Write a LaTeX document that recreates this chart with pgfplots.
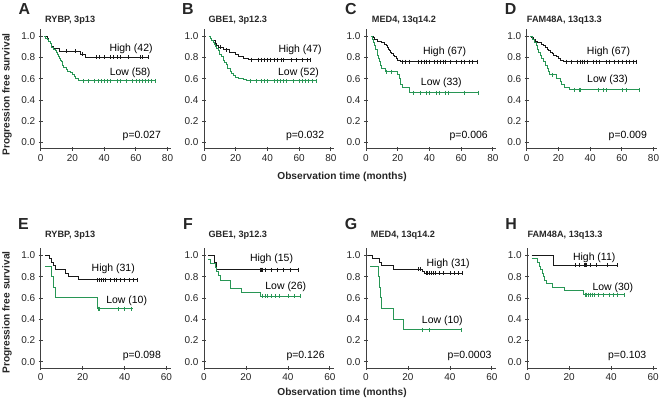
\documentclass[border=0pt]{standalone}
\usepackage{fontspec}
\setmainfont{Liberation Sans}
\usepackage{pgfplots}
\pgfplotsset{compat=1.18}
\definecolor{kmgreen}{RGB}{40,150,85}
\definecolor{kmblack}{RGB}{25,25,25}
\pgfplotsset{
  km/.style={scale only axis, width=130bp, height=120bp, anchor=south west,
    axis lines=left, axis line style={-, black!75, line width=0.8bp},
    tick align=center, major tick length=4bp, tick style={black!75, line width=0.7bp},
    ymin=-0.06, ymax=1.07, ytick={0,0.2,0.4,0.6,0.8,1.0},
    yticklabel style={/pgf/number format/.cd, fixed, fixed zerofill, precision=1},
    tick label style={font=\fontsize{10}{12}\selectfont, text=black!85},
    /pgf/number format/assume math mode=true, clip=false},
  row1/.style={xmin=0, xmax=82, xtick={0,20,40,60,80}},
  row2/.style={xmin=0, xmax=62, xtick={0,20,40,60}},
  hi/.style={const plot, kmblack, line width=0.9bp},
  lo/.style={const plot, kmgreen, line width=0.9bp},
  hic/.style={only marks, mark=|, mark size=2bp, kmblack, mark options={line width=0.5bp}},
  loc/.style={only marks, mark=|, mark size=2bp, kmgreen, mark options={line width=0.5bp}},
}
\newcommand{\lab}{\fontsize{10.5}{12}\selectfont}
\begin{document}
\begin{tikzpicture}
\path[use as bounding box] (0,0) rectangle (661bp,403bp);
% ---------- Row 1 ----------
\begin{axis}[km, row1, at={(40.7bp,254.2bp)}]
\addplot[hi] coordinates {(3,1) (4,0.976) (5,0.952) (6,0.929) (7,0.905) (8,0.881) (12,0.857) (25,0.833) (28,0.80) (68,0.80)};
\addplot[hic] coordinates {(16,0.857) (22,0.857) (26,0.833) (35,0.8) (37,0.8) (40,0.8) (44,0.8) (46,0.8) (48,0.8) (50,0.8) (55,0.8) (63,0.8) (64,0.8) (68,0.8)};
\addplot[lo] coordinates {(2,1) (3,0.983) (4,0.966) (5,0.948) (6,0.931) (6.5,0.914) (7,0.897) (8,0.879) (9,0.862) (10,0.845) (10.5,0.828) (11,0.81) (12,0.793) (12.5,0.776) (13,0.759) (13.5,0.741) (14,0.724) (14.5,0.707) (16,0.69) (17,0.672) (19,0.655) (20,0.638) (21,0.621) (22,0.603) (24,0.58) (72,0.58)};
\addplot[loc] coordinates {(27,0.58) (30,0.58) (34,0.58) (36,0.58) (38,0.58) (40,0.58) (42,0.58) (44,0.58) (48,0.58) (50,0.58) (54,0.58) (58,0.58) (60,0.58) (62,0.58) (64,0.58) (66,0.58) (68,0.58) (70,0.58) (72,0.58)};
\node[font=\lab] at (axis cs:57,0.88) {High (42)};
\node[font=\lab] at (axis cs:56.4,0.66) {Low (58)};
\node[font=\lab, anchor=east] at (axis cs:78,0.065) {p=0.027};
\end{axis}
\begin{axis}[km, row1, at={(204bp,254.2bp)}]
\addplot[hi] coordinates {(3,1) (4,0.979) (5,0.957) (7,0.936) (8,0.915) (9,0.894) (12,0.872) (16,0.851) (20,0.83) (22,0.809) (25,0.79) (28,0.78) (67,0.78)};
\addplot[hic] coordinates {(10,0.894) (14,0.872) (30,0.78) (34,0.78) (36,0.78) (38,0.78) (40,0.78) (42,0.78) (44,0.78) (46,0.78) (49,0.78) (50,0.78) (55,0.78) (58,0.78) (62,0.78) (65,0.78) (67,0.78)};
\addplot[lo] coordinates {(3,1) (4,0.981) (5,0.962) (6,0.942) (6.5,0.923) (7,0.904) (8,0.885) (9,0.865) (9.5,0.846) (10,0.827) (11,0.808) (12,0.788) (12.5,0.769) (13,0.75) (14,0.731) (14.5,0.712) (15,0.692) (16.5,0.673) (17.5,0.654) (18.5,0.635) (20,0.615) (22,0.6) (25,0.59) (27,0.58) (71,0.58)};
\addplot[loc] coordinates {(29,0.58) (33,0.58) (36,0.58) (38,0.58) (40,0.58) (44,0.58) (46,0.58) (48,0.58) (50,0.58) (52,0.58) (56,0.58) (60,0.58) (62,0.58) (64,0.58) (66,0.58) (68,0.58) (71,0.58)};
\node[font=\lab] at (axis cs:60.6,0.868) {High (47)};
\node[font=\lab] at (axis cs:59.6,0.66) {Low (52)};
\node[font=\lab, anchor=east] at (axis cs:78,0.065) {p=0.032};
\end{axis}
\begin{axis}[km, row1, at={(366bp,254.2bp)}]
\addplot[hi] coordinates {(3,1) (4.5,0.985) (5.5,0.97) (7,0.955) (10,0.94) (11.5,0.925) (13,0.91) (13.5,0.895) (14,0.88) (15,0.866) (15.5,0.85) (16,0.836) (17,0.82) (18,0.806) (19,0.79) (20,0.776) (22,0.76) (70,0.76)};
\addplot[hic] coordinates {(23,0.76) (25,0.76) (27,0.76) (33,0.76) (35,0.76) (37,0.76) (38,0.76) (40,0.76) (43,0.76) (45,0.76) (47,0.76) (49,0.76) (50,0.76) (53,0.76) (57,0.76) (60,0.76) (62,0.76) (65,0.76) (67,0.76) (70,0.76)};
\addplot[lo] coordinates {(3,1) (4,0.97) (5,0.939) (5.5,0.909) (6,0.879) (7,0.848) (7.5,0.818) (8,0.788) (8.5,0.758) (9,0.727) (10,0.697) (12,0.667) (20,0.636) (21,0.606) (21.5,0.576) (22,0.545) (23,0.515) (27.5,0.47) (71,0.47)};
\addplot[loc] coordinates {(13,0.667) (16,0.667) (30,0.47) (34,0.47) (38,0.47) (40,0.47) (44,0.47) (46,0.47) (50,0.47) (52,0.47) (62,0.47) (71,0.47)};
\node[font=\lab] at (axis cs:49.6,0.858) {High (67)};
\node[font=\lab] at (axis cs:47.5,0.566) {Low (33)};
\node[font=\lab, anchor=east] at (axis cs:79,0.06) {p=0.006};
\end{axis}
\begin{axis}[km, row1, at={(526.7bp,254.2bp)}]
\addplot[hi] coordinates {(2,1) (3,0.985) (4,0.97) (5.5,0.955) (7,0.94) (9,0.925) (10.5,0.91) (12,0.895) (13,0.88) (14,0.866) (15,0.85) (16,0.836) (17,0.82) (18.5,0.806) (20,0.79) (21.5,0.776) (23,0.76) (69,0.76)};
\addplot[hic] coordinates {(25,0.76) (28,0.76) (32,0.76) (34,0.76) (35,0.76) (36,0.76) (38,0.76) (42,0.76) (44,0.76) (46,0.76) (50,0.76) (52,0.76) (55,0.76) (58,0.76) (60,0.76) (63,0.76) (65,0.76) (67,0.76) (69,0.76)};
\addplot[lo] coordinates {(2,1) (3.5,0.97) (5,0.939) (6,0.909) (6.5,0.879) (7.5,0.848) (8.5,0.818) (9.5,0.788) (10.5,0.758) (12,0.727) (13,0.697) (13.5,0.667) (14.5,0.636) (19,0.606) (21,0.576) (22,0.545) (24,0.515) (27,0.495) (71,0.495)};
\addplot[loc] coordinates {(16,0.636) (30,0.495) (33,0.495) (34,0.495) (45,0.495) (48,0.495) (50,0.495) (60,0.495) (63,0.495) (71,0.495)};
\node[font=\lab] at (axis cs:51.6,0.858) {High (67)};
\node[font=\lab] at (axis cs:51,0.59) {Low (33)};
\node[font=\lab, anchor=east] at (axis cs:78,0.06) {p=0.009};
\end{axis}
% ---------- Row 2 ----------
\begin{axis}[km, row2, at={(40.7bp,35bp)}]
\addplot[hi] coordinates {(2,1) (4,0.968) (5,0.935) (6,0.903) (7,0.871) (12,0.835) (13,0.80) (18,0.77) (46,0.77)};
\addplot[hic] coordinates {(27,0.77) (28,0.77) (29,0.77) (30,0.77) (31,0.77) (33,0.77) (35,0.77) (36,0.77) (38,0.77) (40,0.77) (42,0.77) (44,0.77) (46,0.77)};
\addplot[lo] coordinates {(2,0.9) (5,0.8) (6,0.7) (7,0.6) (27,0.5) (44,0.5)};
\addplot[loc] coordinates {(27.5,0.5) (28,0.5) (37,0.5) (40,0.5) (43,0.5)};
\node[font=\lab] at (axis cs:34.6,0.875) {High (31)};
\node[font=\lab] at (axis cs:41,0.57) {Low (10)};
\node[font=\lab, anchor=east] at (axis cs:59,0.055) {p=0.098};
\end{axis}
\begin{axis}[km, row2, at={(204bp,35bp)}]
\addplot[hi] coordinates {(2,1) (5,0.933) (6,0.867) (45,0.867)};
\addplot[hic] coordinates {(27,0.867) (27.5,0.867) (28,0.867) (29,0.867) (32,0.867) (35,0.867) (38,0.867) (41,0.867) (45,0.867)};
\addplot[lo] coordinates {(2,0.962) (3,0.923) (5.5,0.885) (6,0.846) (7,0.808) (8,0.769) (12.5,0.692) (18,0.654) (27,0.615) (46,0.615)};
\addplot[loc] coordinates {(28,0.615) (29,0.615) (30,0.615) (32,0.615) (34,0.615) (36,0.615) (40,0.615) (43,0.615) (46,0.615)};
\node[font=\lab] at (axis cs:32.2,0.97) {High (15)};
\node[font=\lab] at (axis cs:39,0.70) {Low (26)};
\node[font=\lab, anchor=east] at (axis cs:59.2,0.055) {p=0.126};
\end{axis}
\begin{axis}[km, row2, at={(366bp,35bp)}]
\addplot[hi] coordinates {(1,1) (3,0.968) (6.5,0.935) (7.5,0.903) (13,0.871) (27,0.85) (28,0.83) (46,0.83)};
\addplot[hic] coordinates {(25,0.871) (26,0.871) (28.5,0.83) (29,0.83) (30,0.83) (31,0.83) (32,0.83) (33,0.83) (35,0.83) (37,0.83) (40,0.83) (42,0.83) (44,0.83) (46,0.83)};
\addplot[lo] coordinates {(2,0.9) (6,0.8) (6.5,0.7) (7,0.6) (7.5,0.5) (13,0.4) (18,0.3) (45.5,0.3)};
\addplot[loc] coordinates {(27,0.3) (30,0.3) (45.5,0.3)};
\node[font=\lab] at (axis cs:39.2,0.92) {High (31)};
\node[font=\lab] at (axis cs:36.4,0.384) {Low (10)};
\node[font=\lab, anchor=east] at (axis cs:61.5,0.055) {p=0.0003};
\end{axis}
\begin{axis}[km, row2, at={(527.3bp,35bp)}]
\addplot[hi] coordinates {(2,1) (12.6,0.909) (43,0.909)};
\addplot[hic] coordinates {(23,0.909) (25,0.909) (27,0.909) (27.5,0.909) (28,0.909) (30,0.909) (33,0.909) (38,0.909) (43,0.909)};
\addplot[lo] coordinates {(2,0.967) (5,0.933) (6,0.9) (6.5,0.867) (7,0.833) (7.5,0.8) (8,0.767) (9,0.733) (12,0.7) (17.5,0.667) (27,0.63) (46,0.63)};
\addplot[loc] coordinates {(27.5,0.63) (28,0.63) (29,0.63) (30,0.63) (31,0.63) (32,0.63) (34,0.63) (36,0.63) (39,0.63) (41,0.63) (43,0.63) (46,0.63)};
\node[font=\lab] at (axis cs:31.9,0.978) {High (11)};
\node[font=\lab] at (axis cs:40.8,0.697) {Low (30)};
\node[font=\lab, anchor=east] at (axis cs:58.4,0.055) {p=0.103};
\end{axis}
% ---------- Panel letters and titles ----------
\begin{scope}[every node/.style={font=\fontsize{16}{18}\selectfont\bfseries, text=black!85}]
\node at (24.5bp,394bp) {A};
\node at (188bp,394bp) {B};
\node at (351bp,394bp) {C};
\node at (510.5bp,394bp) {D};
\node at (23.5bp,179bp) {E};
\node at (188bp,179bp) {F};
\node at (351bp,179bp) {G};
\node at (511bp,179bp) {H};
\end{scope}
\begin{scope}[every node/.style={font=\fontsize{9.2}{11}\selectfont\bfseries, anchor=west, inner sep=0pt, text=black!85}]
\node at (45bp,383bp) {RYBP, 3p13};
\node at (208.3bp,383bp) {GBE1, 3p12.3};
\node at (371.7bp,383bp) {MED4, 13q14.2};
\node at (526.7bp,383bp) {FAM48A, 13q13.3};
\node at (45bp,168bp) {RYBP, 3p13};
\node at (208.3bp,168bp) {GBE1, 3p12.3};
\node at (370.7bp,168bp) {MED4, 13q14.2};
\node at (527.3bp,168bp) {FAM48A, 13q13.3};
\end{scope}
\begin{scope}[every node/.style={font=\fontsize{10.2}{12}\selectfont\bfseries, inner sep=0pt, text=black!85}]
\node[rotate=90] at (7bp,308.5bp) {Progression free survival};
\node[rotate=90] at (7bp,90.5bp) {Progression free survival};
\node at (342bp,226bp) {Observation time (months)};
\node at (342bp,10bp) {Observation time (months)};
\end{scope}
\end{tikzpicture}
\end{document}
